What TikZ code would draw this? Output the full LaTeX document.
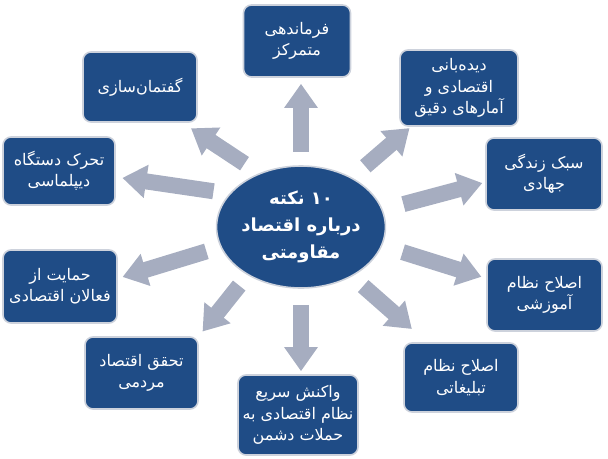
\documentclass[tikz,border=0pt]{standalone}
\usepackage{fontspec}
\usepackage{tikz}
\usetikzlibrary{arrows.meta}
\usetikzlibrary{shapes}
\newfontfamily\arabicfont[Script=Arabic]{DejaVu Sans}
\TeXXeTstate=1
\newcommand{\fatxt}[1]{\beginR #1\endR}
\definecolor{boxblue}{RGB}{31,76,134}
\definecolor{arrowgray}{RGB}{166,173,192}
\definecolor{rimgray}{RGB}{205,210,220}
\begin{document}
\begin{tikzpicture}[x=0.75pt,y=0.75pt,yscale=-1,xscale=1,
    fabox/.style={draw=rimgray, line width=1.2pt, fill=boxblue, rounded corners=6pt, text=white, align=center, inner sep=2pt, font=\arabicfont\fontsize{12}{16}\selectfont},
    hub/.style={ellipse, draw=rimgray, line width=1.2pt, fill=boxblue, text=white, align=center, inner sep=0pt, font=\arabicfont\bfseries\fontsize{13.5}{20.5}\selectfont},
    fatarrow/.style={draw=arrowgray, line width=12pt, -{Triangle[length=18pt,width=24pt]}}]
    \useasboundingbox (0,0) rectangle (608,458);

    % Center
    \node [hub, minimum width=118.5pt, minimum height=91.5pt] (hub) at (301,227) {\fatxt{۱۰ نکته}\\\fatxt{درباره اقتصاد}\\\fatxt{مقاومتی}};

    % Text Nodes
    \node [fabox, minimum width=80.25pt, minimum height=54pt] (command) at (297,41) {\fatxt{فرماندهی}\\\fatxt{متمرکز}};
    \node [fabox, minimum width=88.5pt, minimum height=57pt] (watch) at (459,88) {\fatxt{دیده‌بانی}\\\fatxt{اقتصادی و}\\\fatxt{آمارهای دقیق}};
    \node [fabox, minimum width=87pt, minimum height=54pt] (lifestyle) at (544,174) {\fatxt{سبک زندگی}\\\fatxt{جهادی}};
    \node [fabox, minimum width=86.25pt, minimum height=54pt] (education) at (544.5,295) {\fatxt{اصلاح نظام}\\\fatxt{آموزشی}};
    \node [fabox, minimum width=85.5pt, minimum height=51.75pt] (propaganda) at (461,377.5) {\fatxt{اصلاح نظام}\\\fatxt{تبلیغاتی}};
    \node [fabox, minimum width=90pt, minimum height=60pt] (response) at (298,415) {\fatxt{واکنش سریع}\\\fatxt{نظام اقتصادی به}\\\fatxt{حملات دشمن}};
    \node [fabox, minimum width=84.75pt, minimum height=54pt] (popular) at (141.5,373) {\fatxt{تحقق اقتصاد}\\\fatxt{مردمی}};
    \node [fabox, minimum width=85.5pt, minimum height=54.75pt] (support) at (60,286.5) {\fatxt{حمایت از}\\\fatxt{فعالان اقتصادی}};
    \node [fabox, minimum width=84pt, minimum height=51pt] (diplomacy) at (59,171) {\fatxt{تحرک دستگاه}\\\fatxt{دیپلماسی}};
    \node [fabox, minimum width=85.5pt, minimum height=52.5pt] (discourse) at (140,87) {\fatxt{گفتمان‌سازی}};

    % Arrows
    \draw [fatarrow, shorten <=10pt, shorten >=4.5pt] (hub.90) -- (hub.90 |- command.south);
    \draw [fatarrow, shorten <=13pt, shorten >=1.5pt] (hub.44) -- (watch.219);
    \draw [fatarrow, shorten <=16pt, shorten >=2.25pt] (hub.12) -- (lifestyle.188);
    \draw [fatarrow, shorten <=16pt, shorten >=3.75pt] (hub.-13) -- (education.164);
    \draw [fatarrow, shorten <=11pt, shorten >=15pt] (hub.-44) -- (propaganda.134);
    \draw [fatarrow, shorten <=12pt, shorten >=2.25pt] (hub.-90) -- (hub.-90 |- response.north);
    \draw [fatarrow, shorten <=10pt, shorten >=4.5pt] (hub.222) -- (popular.north east);
    \draw [fatarrow, shorten <=11pt, shorten >=3.75pt] (hub.194) -- (support.8);
    \draw [fatarrow, shorten <=12pt, shorten >=5pt] (hub.155) -- (diplomacy.-6);
    \draw [fatarrow, shorten <=13pt, shorten >=7.5pt] (hub.128) -- (discourse.-40);

\end{tikzpicture}
\end{document}
